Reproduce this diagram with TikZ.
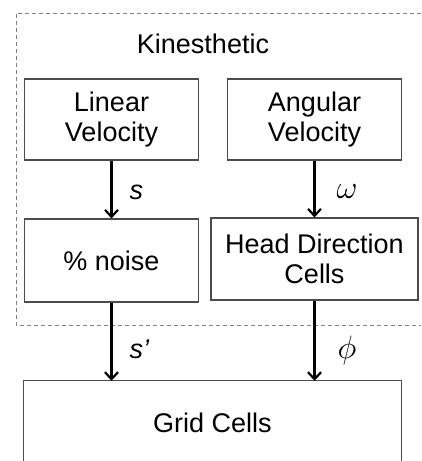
\documentclass[tikz,border=0pt]{standalone}
\usepackage{fontspec}
\setmainfont{Liberation Sans}
\usetikzlibrary{arrows.meta,calc}
\begin{document}
\begin{tikzpicture}[x=1pt,y=-1pt,
  font=\fontsize{27}{30}\selectfont,
  box/.style={draw=black!70,line width=1.1pt,align=center,inner sep=0pt},
  flow/.style={line width=2.2pt,-{Straight Barb[length=7pt,width=13pt,line width=2.2pt]}},
  lbl/.style={inner sep=0pt},
  dash line/.style={draw=black!50,line width=0.9pt,dash pattern=on 4pt off 3pt}]
\clip (0,0) rectangle (421,461);
\fill[white] (0,0) rectangle (421,461);
% dashed region
\draw[dash line] (421,13) -- (16,13) -- (16,325) -- (421,325);
\node[lbl] (kin) at (203,44) {Kinesthetic};
% boxes
\node[box,minimum width=174pt,minimum height=81pt] (lin) at (111.5,119.5) {Linear\\Velocity};
\node[box,minimum width=174pt,minimum height=81pt] (ang) at (314.5,119.5) {Angular\\Velocity};
\node[box,minimum width=174pt,minimum height=83pt] (noise) at (111.5,260.5) {\% noise};
\node[box,minimum width=207pt,minimum height=82pt] (hd) at (314.5,259) {Head Direction\\Cells};
\node[lbl,minimum width=377pt,minimum height=84pt] (grid) at (212.5,423) {Grid Cells};
\draw[draw=black!70,line width=1.1pt] ($(grid.south west)+(0,20)$) -- (grid.north west) -- (grid.north east) -- ($(grid.south east)+(0,20)$);
% connectors
\draw[flow] (lin.south) -- node[pos=0.55,right=17pt,lbl]{\itshape s} (noise.north);
\draw[flow] (ang.south) -- node[pos=0.55,right=21pt,lbl]{\scalebox{1.3}{$\omega$}} (ang.south |- hd.north);
\draw[flow] (noise.south) -- node[pos=0.6,right=17pt,lbl]{\itshape s’} (noise.south |- grid.north);
\draw[flow] (hd.south) -- node[pos=0.62,right=22pt,lbl]{\scalebox{1.3}{$\phi$}} (hd.south |- grid.north);
\end{tikzpicture}
\end{document}
